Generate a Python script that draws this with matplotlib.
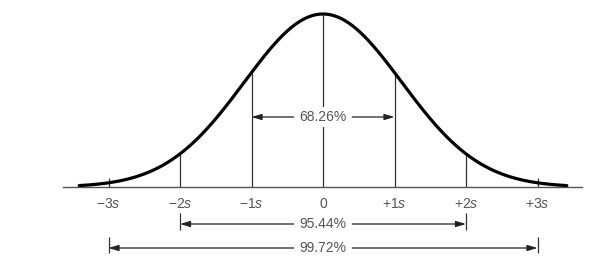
import numpy as np
import matplotlib
matplotlib.use('Agg')
import matplotlib.pyplot as plt

plt.rcParams['font.family'] = ['Liberation Sans', 'DejaVu Sans']
plt.rcParams['mathtext.fontset'] = 'custom'
plt.rcParams['mathtext.rm'] = 'Liberation Sans'
plt.rcParams['mathtext.it'] = 'Liberation Sans:italic'

# ---- data ----
sigma_positions = [-3, -2, -1, 0, 1, 2, 3]
tick_labels = [r'$-3\mathit{s}$', r'$-2\mathit{s}$', r'$-1\mathit{s}$', '0',
               r'$+1\mathit{s}$', r'$+2\mathit{s}$', r'$+3\mathit{s}$']
range_widths = [1, 2, 3]
range_labels = ['68.26%', '95.44%', '99.72%']
curve_width = 1.1      # spread of the drawn bell curve in s units
curve_extent = 3.41    # curve drawn from -extent to +extent

# ---- layout (pixels of a 600x258 figure) ----
W, H = 600, 258
px_per_s = 71.5
x0_px = 323
base_px = 187          # baseline from top
peak_px = 173          # curve height in pixels
ax_left, ax_right = 63, 582

fig = plt.figure(figsize=(W / 100, H / 100), dpi=100)
ax = fig.add_axes([ax_left / W, (H - base_px) / H, (ax_right - ax_left) / W, base_px / H])
ax.set_xlim((ax_left - x0_px) / px_per_s, (ax_right - x0_px) / px_per_s)
ax.set_ylim(0, base_px / peak_px)
for s in ['top', 'left', 'right']:
    ax.spines[s].set_visible(False)
ax.spines['bottom'].set_color('#555555')
ax.spines['bottom'].set_linewidth(1.0)
ax.set_yticks([])

def bell(x):
    return np.exp(-np.asarray(x, float) ** 2 / (2 * curve_width ** 2))

xs = np.linspace(-curve_extent, curve_extent, 500)
ax.plot(xs, bell(xs), color='black', lw=2.3, solid_capstyle='round', zorder=3)

# vertical lines to the curve (inner) and short ticks at the outermost positions
u = 1 / peak_px
for p in sigma_positions:
    if abs(p) < 3:
        ax.vlines(p, 0, bell(p), color='#333333', lw=0.9, zorder=2)
    else:
        ax.vlines(p, 0, 9 * u, color='#333333', lw=0.9, zorder=2)

ax.set_xticks(sigma_positions)
ax.set_xticklabels(tick_labels, fontsize=10, color='#555555')
ax.tick_params(axis='x', length=0, pad=7)

# range arrows
arrow_y_px = [70, -37, -61]
bar_px = [None, (-26, -43), (-50, -66)]
gap = 0.41
for k, lab, ypx, bar in zip(range_widths, range_labels, arrow_y_px, bar_px):
    y = ypx * u
    ax.text(0, y, lab, ha='center', va='center', fontsize=10, color='#555555',
            zorder=4, bbox=dict(facecolor='white', edgecolor='none', pad=2))
    for sgn in (-1, 1):
        ax.annotate('', xy=(sgn * k, y), xytext=(sgn * gap, y),
                    arrowprops=dict(arrowstyle='-|>,head_length=0.6,head_width=0.18',
                                    color='#222222', lw=0.9, shrinkA=0, shrinkB=0),
                    annotation_clip=False)
        if bar is not None:
            ax.vlines(sgn * k, bar[1] * u, bar[0] * u, color='#333333', lw=0.9,
                      clip_on=False)

fig.savefig('out.png', dpi=100, facecolor='white')
